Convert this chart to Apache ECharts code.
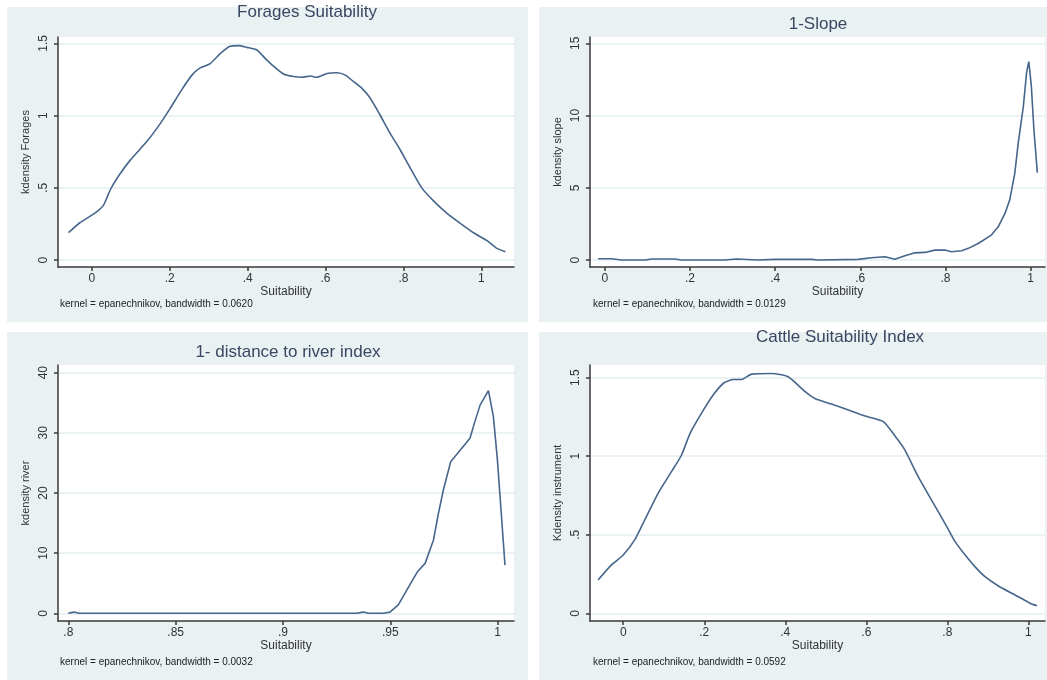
<!DOCTYPE html>
<html>
<head>
<meta charset="utf-8">
<title>Kernel density plots</title>
<script src="https://cdn.jsdelivr.net/npm/echarts@6/dist/echarts.min.js"></script>
<style>
  html, body { margin: 0; padding: 0; background: #fff; }
  #chart { width: 1047px; height: 680px; }
</style>
</head>
<body>
<div id="chart"></div>
<script>
// panel 1 - forages suitability
var foragesX = [-0.06, -0.03, -0.009, 0.013, 0.03, 0.047, 0.068, 0.098, 0.141, 0.176, 0.201, 0.231, 0.257, 0.278, 0.304, 0.33, 0.355, 0.377, 0.398, 0.424, 0.445, 0.467, 0.492, 0.518, 0.539, 0.561, 0.578, 0.604, 0.629, 0.651, 0.672, 0.693, 0.715, 0.74, 0.766, 0.792, 0.818, 0.848, 0.878, 0.912, 0.946, 0.98, 1.015, 1.04, 1.062];
var foragesY = [0.19, 0.26, 0.295, 0.335, 0.38, 0.485, 0.58, 0.69, 0.82, 0.946, 1.05, 1.18, 1.28, 1.33, 1.36, 1.43, 1.48, 1.484, 1.472, 1.454, 1.396, 1.34, 1.288, 1.27, 1.265, 1.274, 1.265, 1.292, 1.297, 1.28, 1.235, 1.19, 1.12, 1.004, 0.877, 0.762, 0.635, 0.496, 0.408, 0.323, 0.254, 0.189, 0.134, 0.081, 0.058];

// panel 2 - 1-slope
var slopeX = [-0.016, 0.016, 0.039, 0.094, 0.11, 0.164, 0.18, 0.28, 0.31, 0.36, 0.40, 0.486, 0.50, 0.595, 0.626, 0.658, 0.681, 0.705, 0.728, 0.752, 0.775, 0.799, 0.814, 0.838, 0.854, 0.877, 0.908, 0.924, 0.94, 0.951, 0.963, 0.971, 0.983, 0.991, 0.996, 1.002, 1.008, 1.016];
var slopeY = [0.09, 0.09, 0, 0, 0.07, 0.07, 0, 0, 0.07, 0, 0.05, 0.05, 0, 0.05, 0.16, 0.23, 0.05, 0.3, 0.5, 0.53, 0.69, 0.69, 0.58, 0.65, 0.81, 1.15, 1.73, 2.3, 3.23, 4.15, 6.0, 8.08, 10.6, 13.04, 13.73, 12.0, 9.0, 6.05];

// panel 3 - 1-distance to river
var riverX = [0.8, 0.8026, 0.805, 0.9343, 0.9374, 0.9398, 0.9467, 0.9498, 0.9537, 0.9568, 0.96, 0.9626, 0.9662, 0.9701, 0.9724, 0.9747, 0.9781, 0.9825, 0.9871, 0.9894, 0.9918, 0.9957, 0.998, 0.9998, 1.0019, 1.0034];
var riverY = [0, 0.2, 0, 0, 0.2, 0, 0, 0.2, 1.4, 3.3, 5.3, 6.9, 8.3, 12.2, 16.6, 20.5, 25.2, 27.1, 29.1, 31.9, 34.6, 37.0, 32.7, 25.8, 15.5, 8.0];

// panel 4 - cattle suitability index
var cattleX = [-0.062, -0.029, 0, 0.029, 0.053, 0.086, 0.119, 0.144, 0.165, 0.193, 0.222, 0.249, 0.272, 0.292, 0.317, 0.366, 0.407, 0.449, 0.473, 0.514, 0.556, 0.597, 0.642, 0.675, 0.695, 0.728, 0.761, 0.794, 0.819, 0.844, 0.868, 0.893, 0.926, 0.967, 1.008, 1.021];
var cattleY = [0.212, 0.308, 0.371, 0.471, 0.594, 0.764, 0.902, 1.008, 1.146, 1.273, 1.39, 1.468, 1.489, 1.489, 1.523, 1.527, 1.506, 1.411, 1.368, 1.332, 1.294, 1.256, 1.22, 1.114, 1.04, 0.87, 0.721, 0.573, 0.456, 0.371, 0.297, 0.233, 0.174, 0.117, 0.059, 0.049];

// tick values
var xTicksUnit = [0, 0.2, 0.4, 0.6, 0.8, 1];
var xTicksRiver = [0.8, 0.85, 0.9, 0.95, 1];
var yTicksForages = [0, 0.5, 1, 1.5];
var yTicksSlope = [0, 5, 10, 15];
var yTicksRiver = [0, 10, 20, 30, 40];
var yTicksCattle = [0, 0.5, 1, 1.5];

var titles = ["Forages Suitability", "1-Slope", "1- distance to river index", "Cattle Suitability Index"];
var yNames = ["kdensity Forages", "kdensity slope", "kdensity river", "Kdensity instrument"];
var notes = [
  "kernel = epanechnikov, bandwidth = 0.0620",
  "kernel = epanechnikov, bandwidth = 0.0129",
  "kernel = epanechnikov, bandwidth = 0.0032",
  "kernel = epanechnikov, bandwidth = 0.0592"
];

function zip(xs, ys) {
  return xs.map(function (x, i) { return [x, ys[i]]; });
}

// stata style labels: .2 instead of 0.2
function stataFmt(v) {
  var s = String(+v.toFixed(3));
  return s.replace(/^0\./, ".");
}

var FONT = "Liberation Sans, Arial, sans-serif";
var LINE = "#46668c";

var grids = [
  { left: 58, top: 37, width: 456, height: 230 },
  { left: 590, top: 37, width: 455, height: 230 },
  { left: 58, top: 365, width: 456, height: 256 },
  { left: 590, top: 365, width: 455, height: 256 }
];
var xRanges = [[-0.087, 1.084], [-0.035, 1.034], [0.7952, 1.0076], [-0.082, 1.041]];
var yRanges = [[-0.048, 1.544], [-0.48, 15.44], [-1.28, 41.27], [-0.049, 1.581]];
var xTicks = [xTicksUnit, xTicksUnit, xTicksRiver, xTicksUnit];
var yTicks = [yTicksForages, yTicksSlope, yTicksRiver, yTicksCattle];
var seriesData = [zip(foragesX, foragesY), zip(slopeX, slopeY), zip(riverX, riverY), zip(cattleX, cattleY)];
var titlePos = [[307, 4], [818, 16], [288, 344], [840, 329]];
var notePos = [[60, 299], [593, 299], [60, 657], [593, 657]];
var xNamePad = [[0, 0, 0, 0], [0, 0, 0, 40], [0, 0, 0, 0], [0, 0, 0, 0]];

var chart = echarts.init(document.getElementById("chart"));

var option = {
  backgroundColor: "#ffffff",
  animation: false,
  textStyle: { fontFamily: FONT },
  graphic: [
    { type: "rect", z: -100, shape: { x: 7, y: 7, width: 521, height: 315 }, style: { fill: "#e9f1f3" } },
    { type: "rect", z: -100, shape: { x: 539, y: 7, width: 508, height: 315 }, style: { fill: "#e9f1f3" } },
    { type: "rect", z: -100, shape: { x: 7, y: 332, width: 521, height: 348 }, style: { fill: "#e9f1f3" } },
    { type: "rect", z: -100, shape: { x: 539, y: 332, width: 508, height: 348 }, style: { fill: "#e9f1f3" } }
  ],
  title: [],
  grid: [],
  xAxis: [],
  yAxis: [],
  series: []
};

for (var i = 0; i < 4; i++) {
  option.title.push({
    text: titles[i],
    left: titlePos[i][0],
    top: titlePos[i][1],
    textAlign: "center",
    padding: 0,
    textStyle: { fontFamily: FONT, fontSize: 17, fontWeight: "normal", color: "#3b4762" }
  });
  option.title.push({
    text: notes[i],
    left: notePos[i][0],
    top: notePos[i][1],
    padding: 0,
    textStyle: { fontFamily: FONT, fontSize: 10, fontWeight: "normal", color: "#222" }
  });
  option.grid.push({
    left: grids[i].left,
    top: grids[i].top,
    width: grids[i].width,
    height: grids[i].height,
    show: true,
    backgroundColor: "#ffffff",
    borderWidth: 0
  });
  option.xAxis.push({
    type: "value",
    gridIndex: i,
    min: xRanges[i][0],
    max: xRanges[i][1],
    name: "Suitability",
    nameLocation: "middle",
    nameGap: 17,
    nameTextStyle: { fontFamily: FONT, fontSize: 12, color: "#333", padding: xNamePad[i] },
    axisLine: { show: true, onZero: false, lineStyle: { color: "#3a3a3a", width: 1.5 } },
    axisTick: { show: true, length: 4, inside: false, customValues: xTicks[i], lineStyle: { color: "#3a3a3a", width: 1.5 } },
    axisLabel: { customValues: xTicks[i], margin: 6, fontSize: 12, color: "#333", fontFamily: FONT, formatter: stataFmt },
    splitLine: { show: false }
  });
  option.yAxis.push({
    type: "value",
    gridIndex: i,
    min: yRanges[i][0],
    max: yRanges[i][1],
    name: yNames[i],
    nameLocation: "middle",
    nameRotate: 90,
    nameGap: 27,
    nameTextStyle: { fontFamily: FONT, fontSize: 11, color: "#333" },
    axisLine: { show: true, onZero: false, lineStyle: { color: "#3a3a3a", width: 1.5 } },
    axisTick: { show: true, length: 4, inside: false, customValues: yTicks[i], lineStyle: { color: "#3a3a3a", width: 1.5 } },
    axisLabel: { customValues: yTicks[i], rotate: 90, margin: 8, fontSize: 12, color: "#333", fontFamily: FONT, formatter: stataFmt },
    splitLine: { show: true, lineStyle: { color: "#e4eef1", width: 1.5 } }
  });
  option.series.push({
    type: "line",
    xAxisIndex: i,
    yAxisIndex: i,
    data: seriesData[i],
    symbol: "none",
    smooth: (i === 0 || i === 3) ? 0.2 : false,
    lineStyle: { color: LINE, width: 1.6 }
  });
}

chart.setOption(option);
</script>
</body>
</html>
